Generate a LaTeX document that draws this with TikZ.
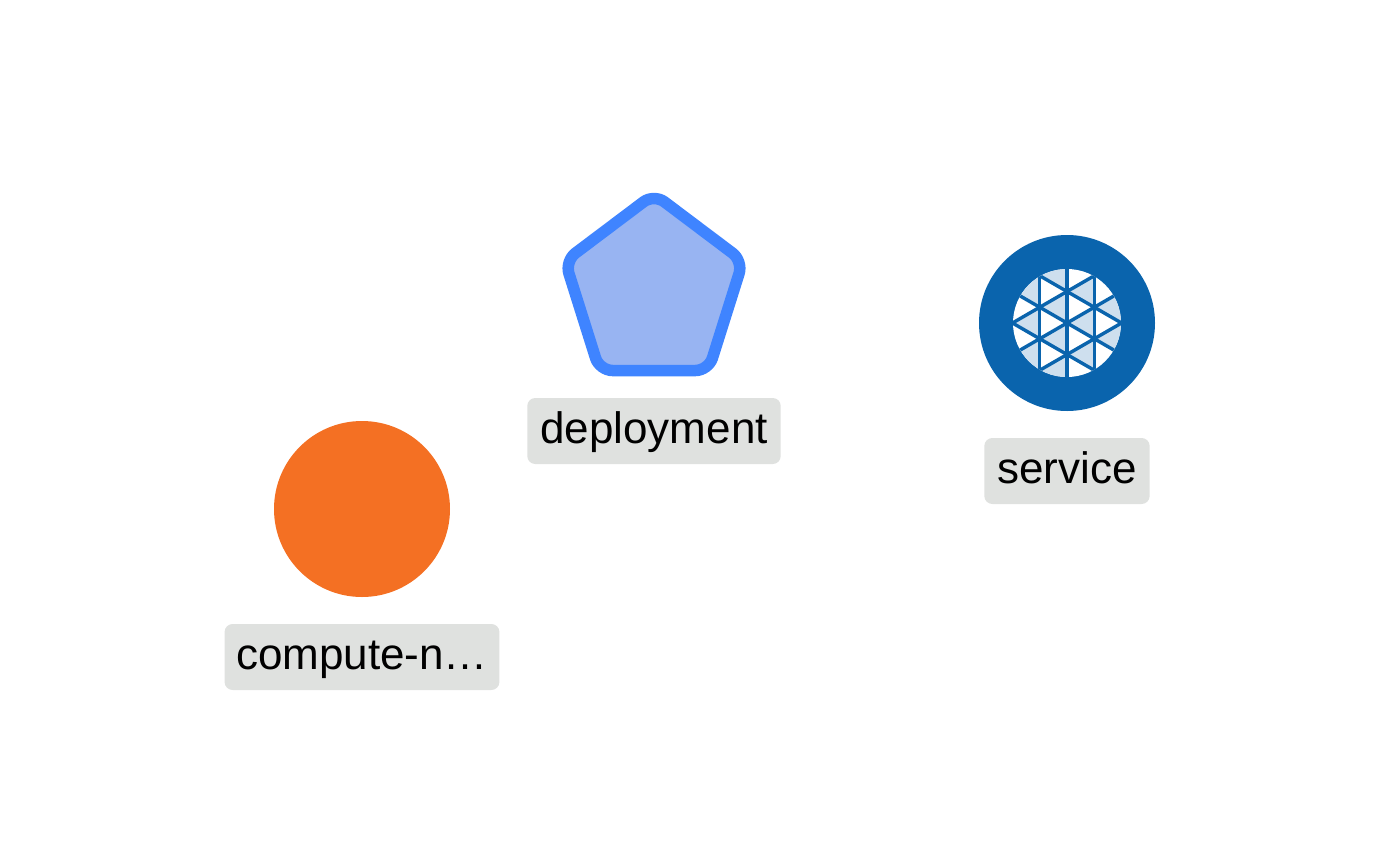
\documentclass[tikz,border=0pt]{standalone}
\usepackage{fontspec}
\setmainfont{Liberation Sans}
\usetikzlibrary{positioning}

\definecolor{tagbg}{HTML}{DFE1DF}
\definecolor{computeorange}{HTML}{F47023}
\definecolor{deployblue}{HTML}{3F84FF}
\definecolor{deployfill}{HTML}{98B4F2}
\definecolor{serviceblue}{HTML}{0A64AD}
\definecolor{servicetint}{HTML}{CEDFEE}

\begin{document}
\begin{tikzpicture}[x=1pt, y=-1pt, on grid, auto,
    tag/.style={fill=tagbg, rounded corners=8pt, inner xsep=13pt, inner ysep=0pt, minimum height=66pt,
        text height=33pt, text depth=8.5pt, font=\fontsize{44}{48}\selectfont},
    mesh/.style={serviceblue, line width=3.4pt}]
        \useasboundingbox (0,0) rectangle (1374,841);

        \node[circle, fill=computeorange, minimum size=176pt, inner sep=0pt] (compute) at (362,509) {};
        \draw[draw=deployblue, fill=deployfill, line width=11.5pt, rounded corners=13pt]
            (654,194) -- (743,261) -- (708.5,370.5) -- (599.5,370.5) -- (565,261) -- cycle;
        \node[inner sep=0pt, minimum size=0pt] (deployment) at (654,293) {};
        \node[circle, fill=serviceblue, minimum size=176pt, inner sep=0pt] (service) at (1067,323) {};
        \node[circle, fill=white, minimum size=108pt, inner sep=0pt] (servicehole) at (service.center) {};

        \node[tag, inner xsep=11.5pt] (computetag) [below=148pt of compute] {compute-n…};
        \node[tag] (deploymenttag) [below=138pt of deployment] {deployment};
        \node[tag] (servicetag) [below=148pt of service] {service};

        \begin{scope}[shift={(1067,323)}]
            \clip (0,0) circle (54pt);
            \foreach \ax/\ay in {-54.6/-31.5, -54.6/0, -54.6/31.5,
                -27.3/-47.25, -27.3/-15.75, -27.3/15.75, -27.3/47.25,
                0/-31.5, 0/0, 0/31.5, 27.3/-15.75, 27.3/15.75}
                \fill[servicetint] (\ax,\ay) -- (\ax+27.3,\ay-15.75) -- (\ax+27.3,\ay+15.75) -- cycle;
            \foreach \vx in {-27.3, 0, 27.3}
                \draw[mesh] (\vx,-60) -- (\vx,60);
            \foreach \k in {-31.5, 0, 31.5} {
                \draw[mesh] (-60,\k-34.64) -- (60,\k+34.64);
                \draw[mesh] (-60,\k+34.64) -- (60,\k-34.64);
            }
        \end{scope}
    \end{tikzpicture}
\end{document}
